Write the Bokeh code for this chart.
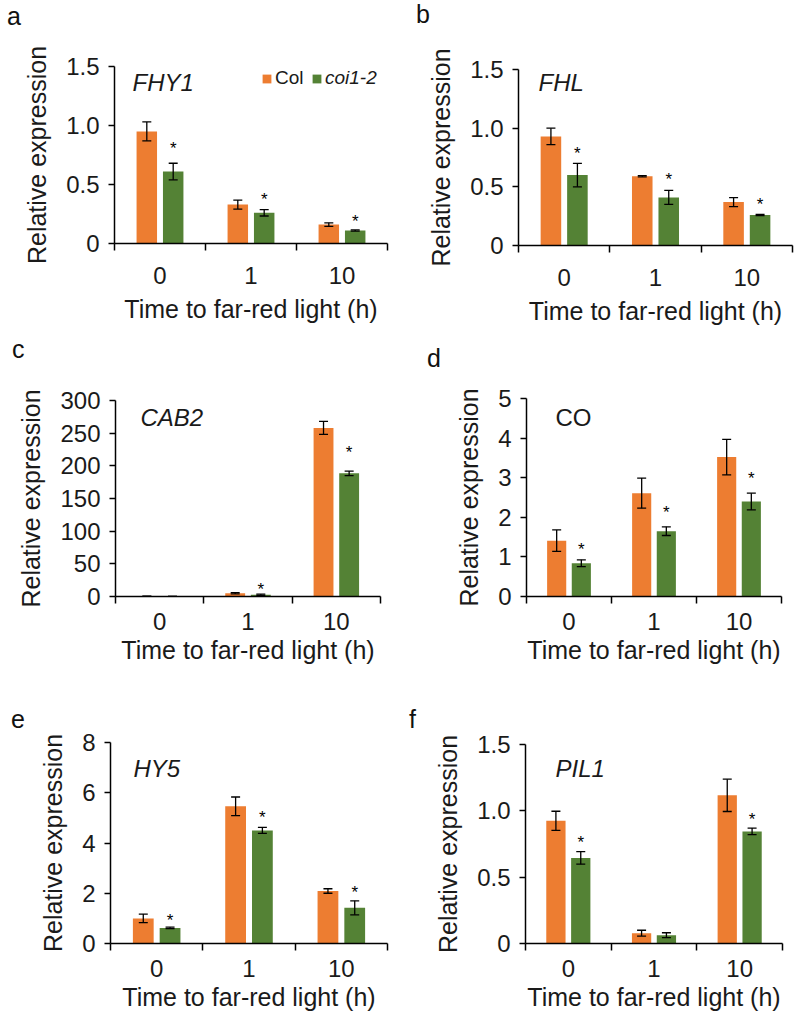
from bokeh.plotting import figure
from bokeh.models import (Range1d, FixedTicker, Label, Legend, LegendItem, Whisker,
                          ColumnDataSource, TeeHead, Div)
from bokeh.layouts import row, column
from bokeh.embed import file_html
from bokeh.resources import INLINE
from bokeh.core.properties import value

# ---------------- data ----------------
times = ["0", "1", "10"]
series = ["Col", "coi1-2"]
xlabel = "Time to far-red light (h)"
ylabel = "Relative expression"

fhy1_col = [0.95, 0.33, 0.16]
fhy1_col_err = [0.08, 0.038, 0.015]
fhy1_coi = [0.61, 0.26, 0.11]
fhy1_coi_err = [0.07, 0.027, 0.005]
fhy1_star = [0.84, 0.41, 0.22]

fhl_col = [0.93, 0.59, 0.37]
fhl_col_err = [0.07, 0.005, 0.038]
fhl_coi = [0.60, 0.41, 0.26]
fhl_coi_err = [0.10, 0.06, 0.005]
fhl_star = [0.82, 0.60, 0.38]

cab2_col = [0.3, 5.0, 258]
cab2_col_err = [0.1, 1.0, 10]
cab2_coi = [0.2, 2.5, 188.5]
cab2_coi_err = [0.1, 1.0, 3.5]
cab2_star = [None, 17, 227]

co_col = [1.41, 2.61, 3.52]
co_col_err = [0.27, 0.38, 0.45]
co_coi = [0.84, 1.65, 2.40]
co_coi_err = [0.085, 0.11, 0.21]
co_star = [1.28, 2.21, 3.07]

hy5_col = [1.0, 5.46, 2.09]
hy5_col_err = [0.17, 0.37, 0.09]
hy5_coi = [0.62, 4.50, 1.42]
hy5_coi_err = [0.03, 0.12, 0.28]
hy5_star = [1.06, 5.18, 2.19]

pil1_col = [0.925, 0.078, 1.117]
pil1_col_err = [0.072, 0.022, 0.122]
pil1_coi = [0.645, 0.063, 0.845]
pil1_coi_err = [0.047, 0.018, 0.025]
pil1_star = [0.794, None, 0.965]

yticks_frac = [0, 0.5, 1.0, 1.5]
ylabels_frac = ["0", "0.5", "1.0", "1.5"]
yticks_cab2 = [0, 50, 100, 150, 200, 250, 300]
yticks_co = [0, 1, 2, 3, 4, 5]
yticks_hy5 = [0, 2, 4, 6, 8]

ORANGE = "#ED7D31"
GREEN = "#548235"
FONT = "Liberation Sans"
TXT = "#1a1a1a"


def panel(gene, gene_style, col, col_err, coi, coi_err, stars,
          yticks, ylabels, fw, fh, left, top, tot_w, tot_h, gene_xy,
          xstand, xlstand, legend=False):
    ymax = yticks[-1]
    p = figure(frame_width=fw, frame_height=fh, x_range=Range1d(0, len(times)),
               y_range=Range1d(0, ymax), output_backend="svg", toolbar_location=None,
               min_border_left=left, min_border_top=top,
               min_border_right=tot_w - left - fw, min_border_bottom=tot_h - top - fh)
    p.outline_line_color = None
    p.grid.visible = False
    p.background_fill_color = "white"
    p.border_fill_color = "white"

    xc = [i + 0.5 - 0.145 for i in range(len(times))]
    xg = [i + 0.5 + 0.145 for i in range(len(times))]
    s1 = ColumnDataSource(dict(x=xc, top=col, up=[v + e for v, e in zip(col, col_err)],
                               lo=[v - e for v, e in zip(col, col_err)]))
    s2 = ColumnDataSource(dict(x=xg, top=coi, up=[v + e for v, e in zip(coi, coi_err)],
                               lo=[v - e for v, e in zip(coi, coi_err)]))
    r1 = p.vbar(x="x", top="top", bottom=0, width=0.225, source=s1,
                fill_color=ORANGE, line_color=None)
    r2 = p.vbar(x="x", top="top", bottom=0, width=0.225, source=s2,
                fill_color=GREEN, line_color=None)
    for s in (s1, s2):
        w = Whisker(base="x", upper="up", lower="lo", source=s, dimension="height",
                    line_color="black", line_width=1.3, level="overlay",
                    upper_head=TeeHead(size=9, line_color="black", line_width=1.3),
                    lower_head=TeeHead(size=9, line_color="black", line_width=1.3))
        p.add_layout(w)

    sx = [x for x, s in zip(xg, stars) if s is not None]
    sy = [s for s in stars if s is not None]
    p.text(x=sx, y=sy, text=["*"] * len(sx), text_align="center",
           text_baseline="middle", text_font=value(FONT), text_font_size="17px",
           text_color="black", y_offset=4)

    # axes
    xa = p.xaxis[0]
    xa.ticker = FixedTicker(ticks=[i + 0.5 for i in range(len(times))],
                            minor_ticks=list(range(len(times) + 1)))
    xa.major_label_overrides = {i + 0.5: t for i, t in enumerate(times)}
    xa.major_tick_line_color = None
    xa.major_tick_out = 0
    xa.major_tick_in = 0
    xa.minor_tick_in = 0
    xa.minor_tick_out = 7
    xa.minor_tick_line_width = 1.5
    xa.minor_tick_line_color = "black"
    xa.axis_line_width = 1.5
    xa.axis_line_color = "black"
    xa.major_label_standoff = xstand
    xa.major_label_text_font = FONT
    xa.major_label_text_font_size = "24px"
    xa.major_label_text_color = TXT
    xa.axis_label = xlabel
    xa.axis_label_text_font = FONT
    xa.axis_label_text_font_size = "25px"
    xa.axis_label_text_font_style = "normal"
    xa.axis_label_text_color = TXT
    xa.axis_label_standoff = xlstand

    ya = p.yaxis[0]
    ya.ticker = FixedTicker(ticks=yticks, minor_ticks=[])
    ya.major_label_overrides = {t: l for t, l in zip(yticks, ylabels)}
    ya.major_tick_out = 6
    ya.major_tick_in = 0
    ya.major_tick_line_width = 1.5
    ya.axis_line_width = 1.5
    ya.major_label_standoff = 9
    ya.major_label_text_font = FONT
    ya.major_label_text_font_size = "24px"
    ya.major_label_text_color = TXT
    ya.axis_label = ylabel
    ya.axis_label_text_font = FONT
    ya.axis_label_text_font_size = "25px"
    ya.axis_label_text_font_style = "normal"
    ya.axis_label_text_color = TXT
    ya.axis_label_standoff = 12

    p.add_layout(Label(x=gene_xy[0], y=gene_xy[1], x_units="screen", y_units="screen",
                       text=gene, text_font=FONT, text_font_size="24px",
                       text_font_style=gene_style, text_color=TXT,
                       text_baseline="alphabetic"))

    if legend:
        lg1 = Legend(items=[LegendItem(label=series[0], renderers=[r1])],
                     location=(147, 154), orientation="horizontal",
                     glyph_width=11, glyph_height=11, label_standoff=3,
                     label_text_font=FONT, label_text_font_size="19px",
                     label_text_color=TXT,
                     border_line_color=None, background_fill_alpha=0,
                     padding=0, margin=0)
        lg2 = Legend(items=[LegendItem(label=series[1], renderers=[r2])],
                     location=(197, 154), orientation="horizontal",
                     glyph_width=11, glyph_height=11, label_standoff=3,
                     label_text_font=FONT, label_text_font_size="19px",
                     label_text_font_style="italic", label_text_color=TXT,
                     border_line_color=None, background_fill_alpha=0,
                     padding=0, margin=0)
        p.add_layout(lg1, "center")
        p.add_layout(lg2, "center")
    return p


def letter_div(letter, w, h, pad_left, pad_top):
    html = (f'<div style="padding-left:{pad_left}px;padding-top:{pad_top}px;'
            f'font-size:25px;line-height:25px;font-family:\'Liberation Sans\';'
            f'color:#111111;">{letter}</div>')
    return Div(text=html, width=w, height=h, margin=0)


# row 1 (height 330): letter strip 30
pa = panel("FHY1", "italic", fhy1_col, fhy1_col_err, fhy1_coi, fhy1_coi_err, fhy1_star,
           yticks_frac, ylabels_frac, 273, 177, 114, 36, 400, 300, (18, 161), 16, 8,
           legend=True)
pb = panel("FHL", "italic", fhl_col, fhl_col_err, fhl_coi, fhl_coi_err, fhl_star,
           yticks_frac, ylabels_frac, 274, 176, 118, 39, 399, 300, (20, 163), 16, 8)
# row 2 (height 335): letter strip 40
pc = panel("CAB2", "italic", cab2_col, cab2_col_err, cab2_coi, cab2_coi_err, cab2_star,
           yticks_cab2, [str(t) for t in yticks_cab2], 265, 196, 115, 30, 400, 295,
           (25, 179), 9, 3)
pd = panel("CO", "normal", co_col, co_col_err, co_coi, co_coi_err, co_star,
           yticks_co, [str(t) for t in yticks_co], 255, 198, 126, 28, 399, 295,
           (29, 179), 9, 3)
# row 3 (height 353): letter strip 64
pe = panel("HY5", "italic", hy5_col, hy5_col_err, hy5_coi, hy5_coi_err, hy5_star,
           yticks_hy5, [str(t) for t in yticks_hy5], 277, 201, 110, 12, 400, 289,
           (23, 175), 9, 3)
pf = panel("PIL1", "italic", pil1_col, pil1_col_err, pil1_coi, pil1_coi_err, pil1_star,
           yticks_frac, ylabels_frac, 257, 199, 125, 14, 399, 289,
           (30, 175), 9, 3)

layout = column(
    row(column(letter_div("a", 400, 30, 7, 4), pa),
        column(letter_div("b", 399, 30, 16, 2), pb)),
    row(column(letter_div("c", 400, 40, 12, 7), pc),
        column(letter_div("d", 399, 40, 27, 16), pd)),
    row(column(letter_div("e", 400, 64, 11, 41), pe),
        column(letter_div("f", 399, 64, 9, 41), pf)),
)
open("out.html", "w").write(file_html(layout, INLINE))
